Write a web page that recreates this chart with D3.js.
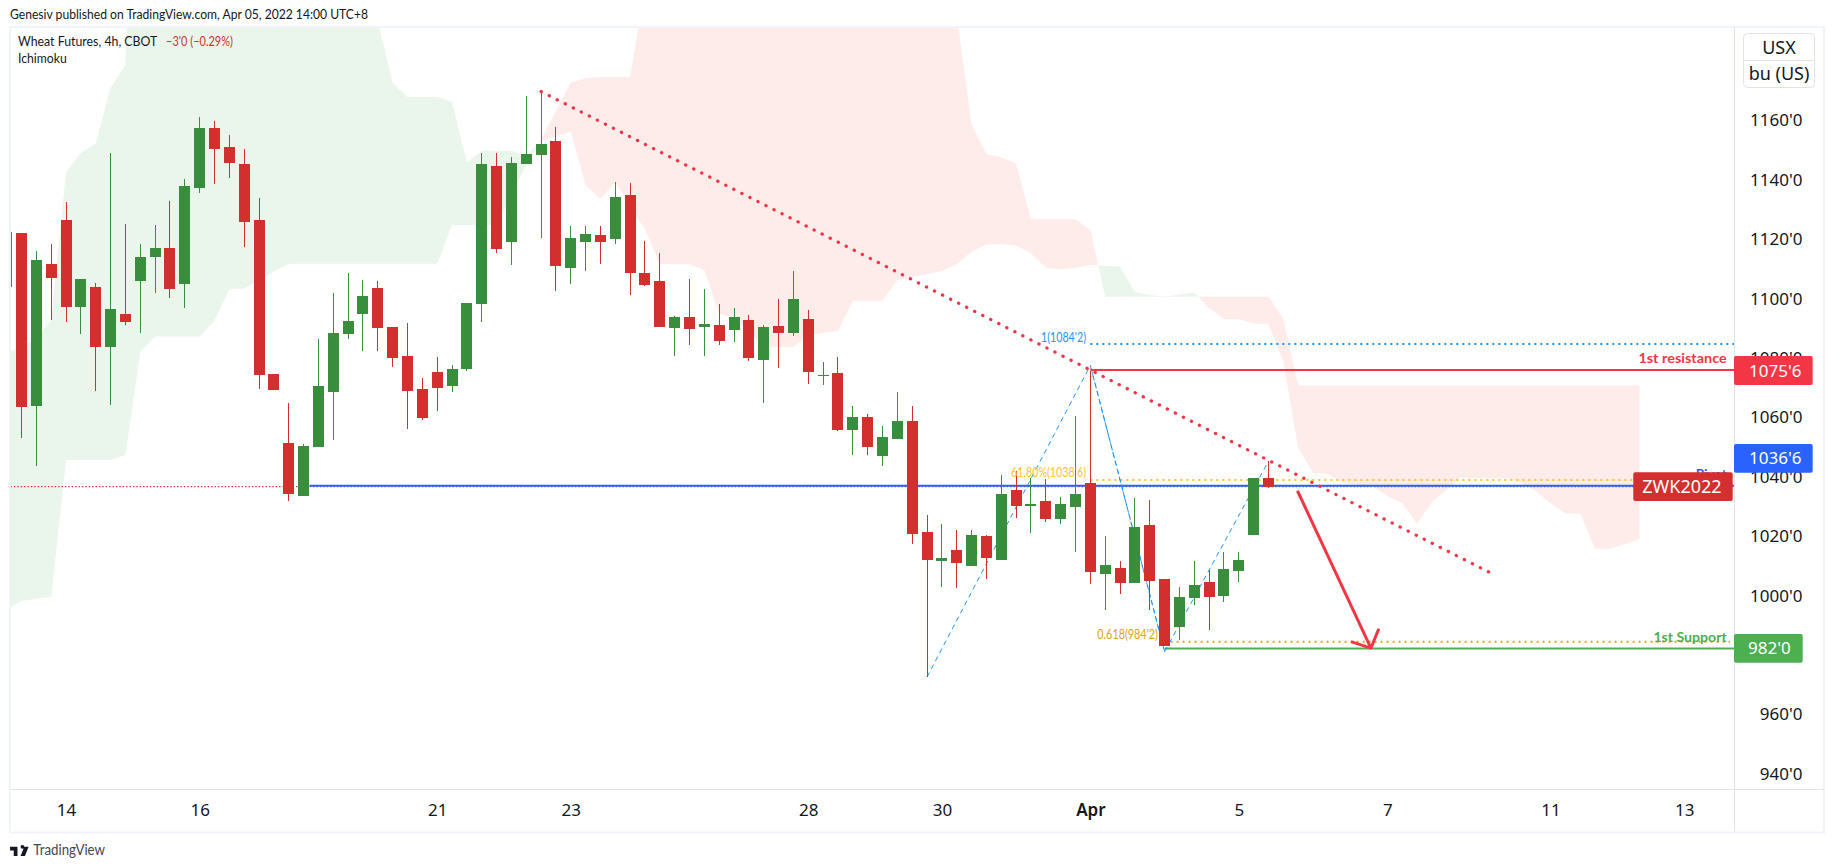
<!DOCTYPE html>
<html>
<head>
<meta charset="utf-8">
<script src="https://cdn.jsdelivr.net/npm/d3@7"></script>
<style>
html, body { margin: 0; padding: 0; background: #fff; }
svg { display: block; }
text { font-family: "Noto Sans", sans-serif; }
.small { font-family: Lato, sans-serif; }
</style>
</head>
<body>
<div class="customChart"></div>
<script>
// 4h candles (bar 0 is clipped at the left edge)
const opens = [1103.8,1121.9,1063.6,1111.4,1126.3,1097.1,1103.7,1083.6,1094.6,1105.7,1113.8,1116.8,1104.8,1137.1,1157.2,1150.8,1145.1,1126.3,1074.4,1051.2,1033.4,1049.9,1068.5,1088,1094.7,1103.4,1090.2,1080.5,1069.4,1075.1,1070.5,1076.1,1098.1,1144.4,1119,1145.2,1148.2,1152.9,1110.2,1119,1121.2,1120,1134.7,1108.4,1105.7,1090,1093.6,1090.3,1090.9,1089.3,1092.6,1079.2,1090.6,1088.3,1092.9,1073.8,1074.7,1055.7,1059.9,1046.9,1052.6,1058.6,1021.2,1011.5,1015.2,1009.9,1019.9,1011.9,1035.4,1030.1,1031.6,1025.7,1029.7,1037.7,1007.2,1009.1,1004.1,1023.6,1005.4,989.3,999.1,1004.4,999.8,1008.2,1020.3,1039.4];
const highs = [1124,1121.9,1115.8,1118.2,1132.3,1106.4,1105,1148.8,1124.9,1118.2,1124.6,1132.7,1140.1,1160.9,1159.6,1154.9,1150.2,1133.7,1074.4,1064.6,1050.8,1086.2,1101.7,1108.4,1106.1,1105.7,1090.2,1091.6,1073.1,1080.1,1077.4,1098.3,1148.8,1148.8,1147.5,1168,1170,1157.6,1124.2,1124.2,1124.2,1139.1,1138.7,1119.2,1115.2,1093.9,1106.4,1103,1098,1096.6,1094.3,1090.9,1099.7,1109.1,1096,1078.5,1080.1,1063.6,1060.9,1056.9,1068.4,1063.6,1026.9,1023.9,1021.9,1021.9,1020.2,1040.4,1041.8,1039.4,1039.1,1033,1060.3,1075.4,1019.9,1011.4,1032.7,1032,1005.4,1002.7,1011.4,1008.4,1014.5,1014.5,1039.4,1045.1];
const lows = [1100,1053,1043.5,1092.5,1092,1088,1068.8,1064.1,1091,1088.3,1101.8,1100.1,1096.7,1135.5,1138.5,1140.5,1117.3,1069.5,1069.1,1031.8,1033.4,1049.9,1052.3,1086.3,1082.3,1082.3,1076.9,1056,1059,1062.1,1068.5,1075.4,1092,1115.3,1111.2,1145.2,1120.3,1102.5,1104.8,1109.2,1111.5,1118.3,1101.1,1104.1,1090.3,1080.6,1084.3,1080.6,1084.3,1085.3,1078.9,1064.7,1076.5,1087.3,1071.1,1070.8,1055.2,1047.2,1047.2,1043.5,1052.6,1017.3,972.3,1002.8,1002.5,1009.9,1005.5,1011.9,1026,1021,1024.7,1024,1014.6,1003.8,995,1000.4,1004.1,995,982.9,985,996.7,988.3,997.7,1004.5,1020.3,1036.1];
const closes = [1122.2,1063.4,1112.8,1106.8,1097.1,1106.4,1083.6,1096.3,1092,1113.8,1116.8,1103.1,1137.7,1157.2,1150.3,1145.6,1125.7,1074.2,1069.1,1034.1,1050.2,1070.4,1088.2,1092.3,1100.7,1090,1079.9,1068.8,1059.7,1069.8,1076.1,1098.3,1145.1,1116.6,1145.5,1148.5,1151.9,1110.9,1120.2,1121.5,1119,1134,1108.5,1104.5,1090.3,1093.6,1089.7,1091.2,1085.6,1093.6,1079.9,1090.2,1088.3,1099.7,1075.2,1074.1,1055.6,1059.9,1049.9,1053.2,1058.6,1020.6,1011.9,1012.5,1010.9,1020.2,1012.6,1034,1030.1,1030.6,1025.7,1030.6,1034,1007.8,1010.1,1004.1,1022.9,1004.8,982.9,999.3,1003.4,999.4,1008.8,1011.8,1039.4,1036.5];

// Ichimoku leading spans, 26 bars ahead of price (values far above the pane are guesses)
const spanA = [1081.8,1083.5,1086.5,1092.6,1142.4,1148.8,1151.9,1170.7,1178.5,1330,1335,1340,1340,1340,1340,1340,1340,1340,1335,1330,1330,1325,1320,1310,1300,1193.3,1172.5,1167.7,1167.7,1167.7,1166,1145.6,1149.6,1149.6,1149.6,1147.9,1152.9,1154.5,1156,1138,1133.3,1139.1,1130.6,1123.2,1111.4,1111.4,1111.4,1109.4,1094.6,1093.3,1088.6,1083.5,1083.4,1083.5,1087.5,1088.2,1089,1099.1,1099.1,1099.1,1106.1,1107.1,1108.1,1109.1,1111.4,1115.6,1118.1,1118.1,1117.7,1115.1,1110.2,1109.7,1110.2,1111.2,1110.9,1110.5,1102,1101,1100.4,1101.2,1101.8,1096.6,1092.9,1092.9,1091.3,1091.3,1078.6,1049.5,1041.1,1040.7,1037.7,1037,1036.7,1033.3,1031,1023.9,1031.3,1035.4,1039.7,1039.4,1039.4,1039.4,1037.7,1035,1031,1027.4,1027.4,1015.6,1015.6,1017.2,1018.8];
const spanB = [995.3,998,998.7,999.3,1045.5,1045.5,1045.5,1045.5,1047.1,1081.9,1087,1087,1087,1087,1092.3,1103.1,1103.1,1106.1,1108.9,1111.5,1111.5,1111.5,1111.5,1111.5,1111.5,1111.5,1111.5,1111.5,1111.5,1111.5,1124.6,1124.6,1124.6,1124.6,1134.7,1144.8,1153.5,1163,1172.5,1174.1,1174.4,1174.4,1174.4,1204.7,1260,1265,1270,1270,1270,1270,1270,1270,1270,1270,1270,1270,1270,1270,1270,1265,1260,1250,1240,1230,1195.3,1158.3,1148.4,1147.4,1145.2,1126.5,1126.5,1126.5,1126.5,1122.8,1100.4,1100.4,1100.4,1100.4,1100.4,1100.4,1100.4,1100.4,1100.4,1100.4,1100.4,1100.4,1092.9,1070.5,1070.5,1070.5,1070.5,1070.5,1070.5,1070.5,1070.5,1070.5,1070.5,1070.5,1070.5,1070.5,1070.5,1070.5,1070.5,1070.5,1070.5,1070.5,1070.5,1070.5,1070.5,1070.5,1070.5];

const priceTicks = [940,960,980,1000,1020,1040,1060,1080,1100,1120,1140,1160];
const timeTickBars = [4,13,29,38,54,63,73,83,93,104,113];
const timeTickLabels = ["14","16","21","23","28","30","Apr","5","7","11","13"];

// drawn tools, as [bar, price]
const trendLine = [[36,1169.5],[99.9,1007.6]];
const fibPath = [[62,972.4],[73,1077.3],[78,980.9],[85,1045.1]];
const arrowLine = [[86.95,1035.1],[91.9,982.1]];
const levelResistance = 1075.75;
const levelPivot = 1036.75;
const levelSupport = 982;
const levelFib1 = 1084.5;
const levelFib618Top = 1038.75;
const levelFib618Bottom = 984.25;

const W = 1834, H = 868;
const pane = {left: 10.5, top: 27.5, right: 1734, bottom: 789};
const upColor = "#388e3c", downColor = "#d32f2f";

const svg = d3.select('.customChart')
	.append('svg')
	.attr('width', W)
	.attr('height', H);

const xScale = d3.scaleLinear().domain([0, 85]).range([6.65, 1268.5]);
const yScale = d3.scaleLinear().domain([1000, 1160]).range([595, 119.8]);

svg.append("defs").append("clipPath").attr("id", "paneClip")
	.append("rect")
	.attr("x", pane.left).attr("y", pane.top)
	.attr("width", pane.right - pane.left).attr("height", pane.bottom - pane.top);

const chart = svg.append("g").attr("clip-path", "url(#paneClip)");

// cloud, green where span A is on top, red where span B is
const bars = d3.range(spanA.length);
const defs = svg.select("defs");
defs.append("clipPath").attr("id", "belowA").append("path")
	.attr("d", d3.area().x(i => xScale(i)).y0(H).y1(i => yScale(spanA[i]))(bars));
defs.append("clipPath").attr("id", "aboveA").append("path")
	.attr("d", d3.area().x(i => xScale(i)).y0(-2000).y1(i => yScale(spanA[i]))(bars));

chart.append("path")
	.attr("clip-path", "url(#belowA)")
	.attr("fill", "#43a047").attr("fill-opacity", 0.11)
	.attr("d", d3.area().x(i => xScale(i)).y0(-2000).y1(i => yScale(spanB[i]))(bars));
chart.append("path")
	.attr("clip-path", "url(#aboveA)")
	.attr("fill", "#f44336").attr("fill-opacity", 0.1)
	.attr("d", d3.area().x(i => xScale(i)).y0(H).y1(i => yScale(spanB[i]))(bars));

// last price dotted line
const lastPrice = closes[closes.length - 1];
chart.append("line")
	.attr("x1", pane.left).attr("x2", pane.right)
	.attr("y1", yScale(lastPrice)).attr("y2", yScale(lastPrice))
	.attr("stroke", downColor).attr("stroke-width", 1.4).attr("stroke-dasharray", "1.4 2");

function hLine(price, fromBar, toX, color, width, dash) {
	const yy = yScale(price);
	const l = chart.append("line")
		.attr("x1", xScale(fromBar)).attr("x2", toX)
		.attr("y1", yy).attr("y2", yy)
		.attr("stroke", color).attr("stroke-width", width);
	if (dash) l.attr("stroke-dasharray", dash);
}

hLine(levelPivot, 20.4, pane.right, "#2962ff", 2);
hLine(levelResistance, 73, pane.right, "#f23645", 2);
hLine(levelSupport, 78, pane.right, "#4caf50", 2);
hLine(levelFib1, 73, pane.right, "#2196f3", 2, "2 4");
hLine(levelFib618Top, 73, 1640, "#ffc233", 2, "2 4");
hLine(levelFib618Bottom, 78, 1730, "#e0a30b", 2, "2 4");

// fib swing lines, the middle leg was drawn twice
const lineGen = d3.line().x(d => xScale(d[0])).y(d => yScale(d[1]));
chart.append("path").attr("d", lineGen(fibPath))
	.attr("fill", "none").attr("stroke", "#2196f3").attr("stroke-width", 1).attr("stroke-dasharray", "5 4");
chart.append("path").attr("d", lineGen([fibPath[2], fibPath[1]]))
	.attr("fill", "none").attr("stroke", "#2196f3").attr("stroke-width", 1).attr("stroke-dasharray", "5 3");

// trend line
chart.append("path").attr("d", lineGen(trendLine))
	.attr("fill", "none").attr("stroke", "#f23645").attr("stroke-width", 3.2)
	.attr("stroke-linecap", "round").attr("stroke-dasharray", "0.3 8.7");

// candles
const candles = chart.append("g").selectAll("g")
	.data(opens.map((o, i) => ({i, o, h: highs[i], l: lows[i], c: closes[i]})))
	.join("g")
	.attr("fill", d => d.c >= d.o ? upColor : downColor)
	.attr("shape-rendering", "crispEdges");

candles.append("rect")
	.attr("x", d => Math.round(xScale(d.i) - 0.5))
	.attr("width", 1)
	.attr("y", d => Math.round(yScale(d.h)))
	.attr("height", d => Math.max(1, Math.round(yScale(d.l)) - Math.round(yScale(d.h))));

candles.append("rect")
	.attr("x", d => Math.round(xScale(d.i) - 5.5))
	.attr("width", 11)
	.attr("y", d => Math.round(yScale(Math.max(d.o, d.c))))
	.attr("height", d => Math.max(1, Math.round(yScale(Math.min(d.o, d.c))) - Math.round(yScale(Math.max(d.o, d.c)))));

// arrow
const tail = [xScale(arrowLine[0][0]), yScale(arrowLine[0][1])];
const tip = [xScale(arrowLine[1][0]), yScale(arrowLine[1][1])];
const ang = Math.atan2(tail[1] - tip[1], tail[0] - tip[0]);
const wing = a => [tip[0] + 21 * Math.cos(ang + a), tip[1] + 21 * Math.sin(ang + a)];
chart.append("path")
	.attr("d", d3.line()([tail, tip]) + d3.line()([wing(-0.82), tip, wing(0.82)]))
	.attr("fill", "none").attr("stroke", "#f23645").attr("stroke-width", 3).attr("stroke-linejoin", "round");

// small texts, squeezed to the width they have in the picture
function label(t, x, y, color, size, len, anchor, weight) {
	return svg.append("text").attr("x", x).attr("y", y)
		.attr("class", "small")
		.attr("fill", color).attr("font-size", size)
		.attr("text-anchor", anchor || "start")
		.attr("font-weight", weight || 400)
		.attr("textLength", len)
		.attr("lengthAdjust", "spacingAndGlyphs")
		.text(t);
}
label("1(1084'2)", 1086, 341.5, "#2196f3", 13, 45, "end");
label("61.80%(1038'6)", 1086, 477, "#ffc233", 13, 75, "end");
label("0.618(984'2)", 1158, 639, "#e0a30b", 13, 60.7, "end");
label("1st resistance", 1726.7, 362.5, "#f23645", 14, 88.3, "end", 700);
label("Pivot", 1726.7, 479, "#2962ff", 14, 31, "end", 700);
label("1st Support", 1726.7, 641.5, "#4caf50", 14, 73.3, "end", 700);

// frame
svg.append("rect")
	.attr("x", 10).attr("y", 27)
	.attr("width", 1814).attr("height", 805.5)
	.attr("fill", "none").attr("stroke", "#f0f3fa").attr("stroke-width", 2);
svg.append("line").attr("x1", 1734.5).attr("x2", 1734.5).attr("y1", 27).attr("y2", 832)
	.attr("stroke", "#e0e3eb");
svg.append("line").attr("x1", 11).attr("x2", 1824).attr("y1", 789.5).attr("y2", 789.5)
	.attr("stroke", "#e0e3eb");

// price axis
const yAxis = d3.axisRight(yScale)
	.tickValues(priceTicks)
	.tickSize(0)
	.tickFormat(d => d + "'0");
const rightAxis = svg.append("g")
	.attr("class", "axis y-axis")
	.attr("transform", "translate(1734,0)")
	.call(yAxis);
rightAxis.select(".domain").remove();
rightAxis.selectAll("text")
	.attr("x", 68.5).attr("dy", "0.36em")
	.attr("text-anchor", "end")
	.attr("fill", "#131722").attr("font-size", 17)
	.style("font-family", '"Noto Sans", sans-serif');

// time axis
const xAxis = d3.axisBottom(xScale)
	.tickValues(timeTickBars)
	.tickSize(0)
	.tickFormat((d, i) => timeTickLabels[i]);
const bottomAxis = svg.append("g")
	.attr("class", "axis x-axis")
	.attr("transform", "translate(0,789)")
	.call(xAxis);
bottomAxis.select(".domain").remove();
bottomAxis.selectAll("text")
	.attr("y", 27).attr("dy", 0)
	.attr("fill", "#131722").attr("font-size", 17)
	.attr("font-weight", (d, i) => timeTickLabels[i] === "Apr" ? 600 : 400)
	.style("font-family", '"Noto Sans", sans-serif');

// price tags
function tag(t, x, yTop, w, h, bg, textX, size) {
	const g = svg.append("g");
	g.append("rect").attr("x", x).attr("y", yTop).attr("width", w).attr("height", h)
		.attr("rx", 2).attr("fill", bg);
	g.append("text").attr("x", textX).attr("y", yTop + h / 2).attr("dy", "0.36em")
		.attr("fill", "#fff").attr("font-size", size || 17).text(t);
}
tag("1075'6", 1734, 356, 78.7, 29, "#f23645", 1749);
tag("1036'6", 1734, 444, 78.7, 28.7, "#2962ff", 1749);
tag("982'0", 1734, 634, 68.7, 28.7, "#4caf50", 1748);
tag("ZWK2022", 1633.3, 472.3, 99.4, 28.7, "#d32f2f", 1642.3, 18);

// currency box
svg.append("rect").attr("x", 1743.5).attr("y", 33.5).attr("width", 71).attr("height", 54)
	.attr("rx", 4).attr("fill", "#fff").attr("stroke", "#e0e3eb");
svg.append("line").attr("x1", 1743.5).attr("x2", 1814.5).attr("y1", 60.5).attr("y2", 60.5)
	.attr("stroke", "#e0e3eb");
svg.append("text").attr("x", 1779).attr("y", 54).attr("text-anchor", "middle")
	.attr("fill", "#131722").attr("font-size", 18).text("USX");
svg.append("text").attr("x", 1779).attr("y", 79.5).attr("text-anchor", "middle")
	.attr("fill", "#131722").attr("font-size", 18).text("bu (US)");

// header and legend
label("Genesiv published on TradingView.com, Apr 05, 2022 14:00 UTC+8", 10, 19, "#131722", 13.5, 358);
label("Wheat Futures, 4h, CBOT", 18, 46, "#131722", 13.5, 139.3);
label("\u22123'0 (\u22120.29%)", 166, 46, "#d32f2f", 13.5, 67);
label("Ichimoku", 18, 63, "#131722", 13.5, 48.7);

// footer logo and name
svg.append("path")
	.attr("transform", "translate(8.8,843.1) scale(0.62)")
	.attr("fill", "#131722")
	.attr("d", "M14 6H2v6h6v9h6V6zm12 15h-7l6-15h7l-6 15zm-1-15a3 3 0 11-6 0 3 3 0 016 0z");
label("TradingView", 33.3, 855, "#434651", 14.5, 71.7);
</script>
</body>
</html>
